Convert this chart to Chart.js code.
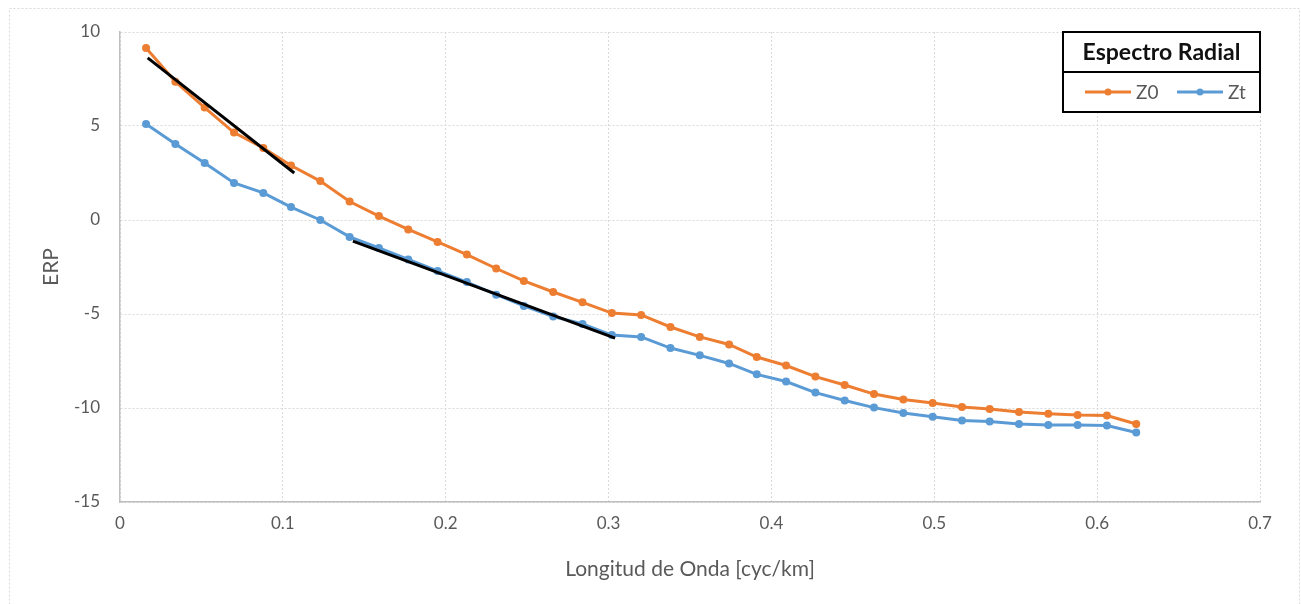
<!DOCTYPE html>
<html>
<head>
<meta charset="utf-8">
<script src="https://cdn.jsdelivr.net/npm/chart.js@4.4.1/dist/chart.umd.min.js"></script>
<style>
  html, body { margin: 0; padding: 0; background: #fff; }
  #wrap { position: relative; width: 1301px; height: 604px; }
</style>
</head>
<body>
<div id="wrap"><canvas id="erpChart" width="1301" height="604"></canvas></div>
<script>
// wavenumber (cyc/km)
const waveNumbers = [0.016, 0.034, 0.052, 0.070, 0.088, 0.105, 0.123, 0.141, 0.159, 0.177,
  0.195, 0.213, 0.231, 0.248, 0.266, 0.284, 0.302, 0.320, 0.338, 0.356,
  0.374, 0.391, 0.409, 0.427, 0.445, 0.463, 0.481, 0.499, 0.517, 0.534,
  0.552, 0.570, 0.588, 0.606, 0.624];
const z0Values = [9.15, 7.36, 5.98, 4.65, 3.83, 2.90, 2.07, 0.98, 0.21, -0.50,
  -1.17, -1.84, -2.58, -3.24, -3.83, -4.38, -4.95, -5.05, -5.69, -6.22,
  -6.62, -7.29, -7.74, -8.33, -8.78, -9.26, -9.55, -9.73, -9.95, -10.05,
  -10.21, -10.30, -10.37, -10.40, -10.85];
const ztValues = [5.11, 4.04, 3.03, 1.97, 1.44, 0.69, 0.00, -0.90, -1.49, -2.10,
  -2.71, -3.30, -3.97, -4.57, -5.13, -5.53, -6.12, -6.22, -6.81, -7.20,
  -7.63, -8.21, -8.59, -9.18, -9.60, -9.98, -10.27, -10.46, -10.67, -10.72,
  -10.85, -10.90, -10.90, -10.93, -11.30];
// fitted slopes (black)
const fitDeepX = [0.017, 0.107];
const fitDeepY = [8.62, 2.50];
const fitShallowX = [0.143, 0.304];
const fitShallowY = [-1.12, -6.28];

const seriesNames = ['Z0', 'Zt'];
const legendTitle = 'Espectro Radial';
const xTitle = 'Longitud de Onda [cyc/km]';
const yTitle = 'ERP';

const ORANGE = '#ED7D31';
const BLUE = '#5B9BD5';
const TXT = '#595959';
const FONT = 'Lato';

const pts = (xs, ys) => xs.map((x, i) => ({ x: x, y: ys[i] }));

/* Excel-style framed legend inside the plot, top right */
const legendBox = {
  id: 'legendBox',
  beforeDraw(chart) {
    const ctx = chart.ctx;
    ctx.save();
    ctx.strokeStyle = '#d9d9d9';
    ctx.lineWidth = 1;
    ctx.setLineDash([2, 2]);
    ctx.strokeRect(9.5, 8.5, 1290, 640);
    ctx.restore();
  },
  afterDraw(chart) {
    const ctx = chart.ctx;
    const a = chart.chartArea;
    const w = 197, h = 80;
    const left = a.right - w, top = a.top;
    ctx.save();
    ctx.fillStyle = '#fff';
    ctx.fillRect(left, top, w, h);
    ctx.strokeStyle = '#000';
    ctx.lineWidth = 2;
    ctx.strokeRect(left, top, w, h);
    ctx.beginPath();
    ctx.moveTo(left, top + 40);
    ctx.lineTo(left + w, top + 40);
    ctx.stroke();

    ctx.fillStyle = '#111';
    ctx.font = 'bold 23px ' + FONT;
    ctx.textAlign = 'center';
    ctx.textBaseline = 'middle';
    ctx.fillText(legendTitle, left + w / 2, top + 21);

    const items = chart.data.datasets.filter(d => seriesNames.includes(d.label));
    let x = left + 22;
    const y = top + 60;
    ctx.font = '19px ' + FONT;
    ctx.textAlign = 'left';
    items.forEach(d => {
      ctx.strokeStyle = d.borderColor;
      ctx.lineWidth = 3;
      ctx.beginPath();
      ctx.moveTo(x, y);
      ctx.lineTo(x + 46, y);
      ctx.stroke();
      ctx.fillStyle = d.borderColor;
      ctx.beginPath();
      ctx.arc(x + 23, y, 3.5, 0, Math.PI * 2);
      ctx.fill();
      ctx.fillStyle = TXT;
      ctx.fillText(d.label, x + 51, y + 1);
      x += 92;
    });
    ctx.restore();
  }
};

new Chart(document.getElementById('erpChart'), {
  type: 'line',
  data: {
    datasets: [
      { label: 'fit1', data: pts(fitDeepX, fitDeepY), borderColor: '#000', borderWidth: 3, pointRadius: 0, order: 0 },
      { label: 'fit2', data: pts(fitShallowX, fitShallowY), borderColor: '#000', borderWidth: 3, pointRadius: 0, order: 0 },
      { label: seriesNames[0], data: pts(waveNumbers, z0Values), borderColor: ORANGE, backgroundColor: ORANGE,
        borderWidth: 3, pointRadius: 4, pointBorderWidth: 0, order: 1 },
      { label: seriesNames[1], data: pts(waveNumbers, ztValues), borderColor: BLUE, backgroundColor: BLUE,
        borderWidth: 3, pointRadius: 4, pointBorderWidth: 0, order: 1 }
    ]
  },
  options: {
    responsive: false,
    animation: false,
    layout: { padding: { top: 32, right: 41, left: 0, bottom: 0 } },
    plugins: { legend: { display: false }, tooltip: { enabled: false } },
    scales: {
      x: {
        type: 'linear',
        min: 0,
        max: 0.7,
        ticks: { stepSize: 0.1, color: TXT, font: { family: FONT, size: 17 }, padding: 11,
                 callback: v => String(+v.toFixed(1)) },
        grid: { color: '#d9d9d9', drawTicks: false },
        border: { color: '#bfbfbf', width: 1.5, dash: [2, 2] },
        title: { display: true, text: xTitle, color: TXT, font: { family: FONT, size: 21 }, padding: { top: 0, bottom: 22 } },
        afterFit: s => { s.height = 102; }
      },
      y: {
        min: -15,
        max: 10,
        ticks: { stepSize: 5, color: TXT, font: { family: FONT, size: 17 }, padding: 20 },
        grid: { color: '#d9d9d9', drawTicks: false },
        border: { color: '#bfbfbf', width: 1.5, dash: [2, 2] },
        title: { display: true, text: yTitle, color: TXT, font: { family: FONT, size: 21 }, padding: { top: 39, bottom: 0 } },
        afterFit: s => { s.width = 120; }
      }
    }
  },
  plugins: [legendBox]
});
</script>
</body>
</html>
